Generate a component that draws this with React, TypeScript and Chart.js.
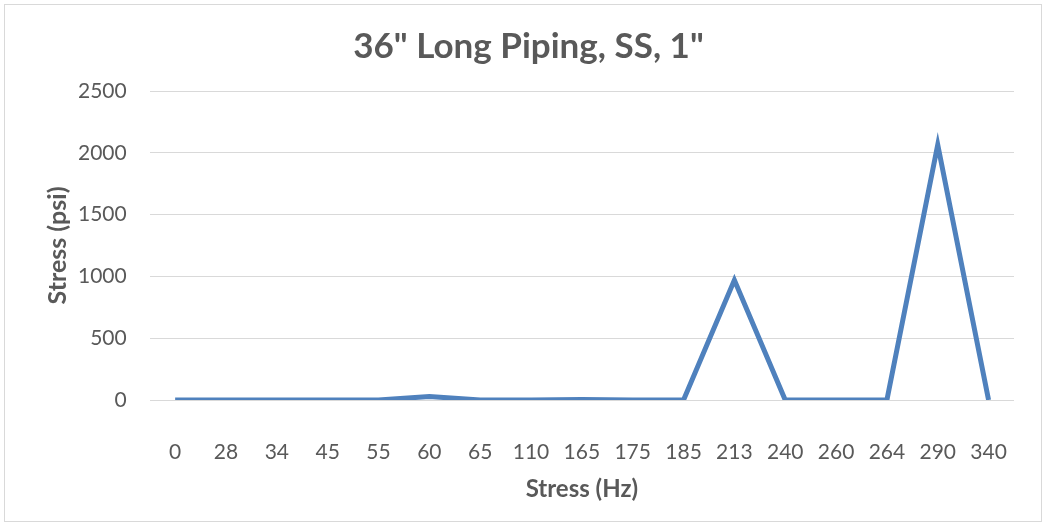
import React, { useEffect, useRef } from "react";
import { Chart, registerables } from "chart.js";

Chart.register(...registerables);

const categories = ["0", "28", "34", "45", "55", "60", "65", "110", "165", "175", "185", "213", "240", "260", "264", "290", "340"];
const stressValues = [0, 0, 0, 0, 0, 28, 0, 0, 5, 0, 0, 970, 0, 0, 0, 2065, 0];
const yTicks = [0, 500, 1000, 1500, 2000, 2500];

const FONT = "Lato, 'Open Sans', sans-serif";
const GRAY = "#595959";

export default function App() {
  const ref = useRef<HTMLCanvasElement>(null);
  useEffect(() => {
    if (!ref.current) return;
    const chart = new Chart(ref.current, {
      type: "line",
      data: {
        labels: categories,
        datasets: [
          {
            data: stressValues,
            borderColor: "#4f81bd",
            borderWidth: 5,
            pointRadius: 0,
            tension: 0,
            fill: false,
          },
        ],
      },
      options: {
        animation: false,
        responsive: false,
        layout: { padding: { left: 43, right: 32, top: 0, bottom: 17 } },
        plugins: {
          legend: { display: false },
          tooltip: { enabled: false },
          title: {
            display: true,
            text: '36" Long Piping, SS, 1"',
            color: GRAY,
            font: { family: FONT, size: 35, weight: "bold" },
            padding: { top: 26, bottom: 23 },
          },
        },
        scales: {
          x: {
            offset: true,
            grid: { display: false },
            border: { display: false },
            ticks: { color: GRAY, font: { family: FONT, size: 21 }, padding: 32, maxRotation: 0, autoSkip: false },
            title: { display: true, text: "Stress (Hz)", color: GRAY, font: { family: FONT, size: 24, weight: "bold" }, padding: { top: -22, bottom: 4 } },
          },
          y: {
            min: 0,
            max: 2500,
            afterBuildTicks: (axis: any) => {
              axis.ticks = yTicks.map((v) => ({ value: v }));
            },
            grid: { color: "#d9d9d9", lineWidth: 1, drawTicks: false },
            border: { display: false },
            ticks: { color: GRAY, font: { family: FONT, size: 21 }, padding: 23, callback: (v: any) => String(v) },
            title: { display: true, text: "Stress (psi)", color: GRAY, font: { family: FONT, size: 25, weight: "bold" }, padding: { top: 0, bottom: -18 } },
          },
        },
      },
    });
    return () => chart.destroy();
  }, []);
  return (
    <div style={{ position: "absolute", left: 0, top: 0, width: 1046, height: 525, background: "#fff" }}>
      <div style={{ position: "absolute", left: 4, top: 4, width: 1036, height: 516, border: "1.5px solid #d9d9d9" }} />
      <canvas ref={ref} width={1046} height={525} style={{ position: "absolute", left: 0, top: 0 }} />
    </div>
  );
}
